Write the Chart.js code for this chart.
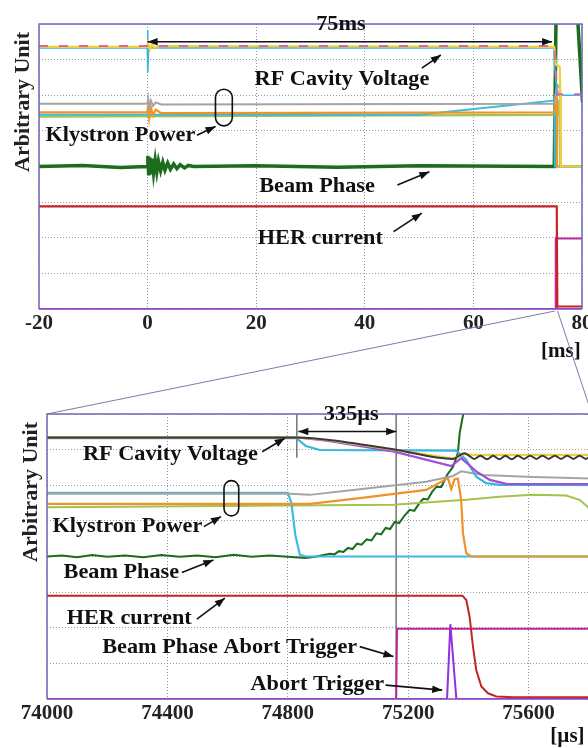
<!DOCTYPE html>
<html><head><meta charset="utf-8">
<script src="https://cdn.jsdelivr.net/npm/chart.js@4/dist/chart.umd.min.js"></script>
<style>
html,body{margin:0;padding:0;background:#fff;overflow:hidden;width:588px;height:748px;}
#wrap{position:relative;width:588px;height:748px;overflow:hidden;}
canvas{position:absolute;}
#c1{left:0;top:0;} #c2{left:0;top:390px;} #ov{left:0;top:0;z-index:5;pointer-events:none;}
</style></head><body>
<div id="wrap">
<canvas id="c1" width="620" height="380"></canvas>
<canvas id="c2" width="700" height="358"></canvas>
<canvas id="ov" width="588" height="748"></canvas>
</div>
<script>
// ---------- tick labels ----------
const topXTicks = [-20, 0, 20, 40, 60, 80];
const botXTicks = [74000, 74400, 74800, 75200, 75600, 76000];
const yTicks = [0, 1, 2, 3, 4, 5, 6, 7, 8];

// ---------- upper panel (x in ms) ----------
const topRfPink   = [[-20,7.38],[74.9,7.38],[75.2,6.6],[75.5,6.03],[80,6.03]];
const topRfYellow = [[-20,7.36],[-0.05,7.36],[0.1,7.48],[0.4,7.28],[0.8,7.42],[1.3,7.32],[2,7.38],[74.9,7.36],[75.2,6.85],[75.9,6.8],[76.0,6.07],[76.1,4.0],[80,4.0]];
const topRfCyan   = [[-20,7.33],[-0.05,7.33],[0,7.83],[0.05,6.65],[0.2,7.33],[74.8,7.33],[74.9,6.97],[75.4,6.0],[80,6.0]];
const topKlyGray  = [[-20,5.76],[-0.05,5.76],[0.1,5.9],[0.3,5.65],[0.6,5.85],[1.0,5.7],[1.5,5.8],[2.5,5.74],[74.9,5.76],[75.4,6.3],[75.9,6.2],[76.1,4.0],[80,4.0]];
const topKlyOrange= [[-20,5.52],[-0.05,5.52],[0.1,5.72],[0.3,5.36],[0.6,5.66],[1.0,5.44],[1.5,5.6],[2.5,5.5],[74.9,5.52],[75.35,6.2],[75.4,4.0],[80,4.0]];
const topKlyCyan  = [[-20,5.45],[50,5.45],[74.9,5.85],[75.0,4.0],[80,4.0]];
const topKlyGreen = [[-20,5.4],[75.0,5.45],[75.6,5.75],[75.85,5.4],[76.0,4.0],[80,4.0]];
const topBeamPhase= [[-20,4.0],[-12,4.03],[-5,3.97],[-0.05,4.0],[0.05,4.3],[0.2,3.75],[0.4,4.26],[0.6,3.78],[0.85,4.22],[1.1,3.82],[1.4,4.18],[1.7,3.85],[2.0,4.15],[2.4,3.88],[2.8,4.12],[3.2,3.9],[3.7,4.1],[4.2,3.92],[4.8,4.07],[5.4,3.94],[6.0,4.05],[6.8,3.96],[7.5,4.03],[8.5,4.0],[20,4.02],[35,3.98],[50,4.02],[74.9,4.0],[75.35,10],[78.5,10],[80.1,5.8]];
const topHER      = [[-20,2.88],[75.35,2.88],[75.45,0.07],[80,0.07]];
const topBPAT     = [[-20,0],[75.16,0],[75.16,1.98],[80,1.98]];
const topAbort    = [[-20,0],[75.33,0],[75.34,2.06],[75.36,0],[80,0]];

// ---------- lower panel (x in µs) ----------
const botRfBlack  = [[74000,7.34],[74830,7.34],[74930,7.28],[75150,7.01],[75349,6.74],[75387,6.9],[75400,6.84],[75420,6.74],[75440,6.83],[75462,6.73],[75482,6.83],[75503,6.73],[75523,6.83],[75544,6.73],[75564,6.83],[75585,6.74],[75605,6.83],[75626,6.74],[75646,6.83],[75667,6.74],[75687,6.83],[75708,6.74],[75728,6.83],[75749,6.74],[75769,6.83],[75790,6.74],[75810,6.83],[75831,6.74],[75851,6.83],[75872,6.74],[75892,6.83],[75913,6.74],[75933,6.83],[75954,6.74],[75974,6.83],[75995,6.74]];
const botRfYellow = [[74000,7.35],[74830,7.35],[74930,7.27],[75150,7.0],[75349,6.75],[75387,6.88],[75420,6.85],[76000,6.85]];
const botRfPurple = [[74000,7.34],[74830,7.34],[74930,7.25],[75150,6.95],[75343,6.54],[75376,6.76],[75426,6.39],[75471,6.15],[75526,6.04],[76000,6.03]];
const botRfCyan   = [[74000,7.32],[74829,7.32],[74860,7.1],[74906,6.99],[75360,6.97],[75393,6.71],[75426,6.24],[75459,6.06],[75504,6.01],[76000,6.0]];
const botKlyGray  = [[74000,5.76],[74807,5.76],[74873,5.73],[75039,5.89],[75260,6.10],[75349,6.26],[75376,6.39],[75448,6.29],[75614,6.23],[76000,6.15]];
const botKlyOrange= [[74000,5.48],[74873,5.48],[75039,5.64],[75260,5.87],[75332,6.2],[75343,5.89],[75354,6.17],[75365,6.19],[75376,5.59],[75382,4.65],[75393,4.09],[75410,4.0],[76000,4.0]];
const botKlyCyan  = [[74000,5.79],[74800,5.79],[74812,5.5],[74825,4.6],[74840,4.05],[74860,4.0],[76000,4.0]];
const botKlyGreen = [[74000,5.38],[75150,5.45],[75393,5.59],[75504,5.68],[75614,5.73],[75725,5.71],[75769,5.59],[75796,5.40],[75850,4.6],[75900,4.1],[76000,4.0]];
const botBeamPhase= [[74000,4.0],[74050,4.03],[74100,3.98],[74150,4.04],[74200,3.99],[74260,4.03],[74320,3.98],[74380,4.04],[74440,3.99],[74500,4.03],[74560,3.98],[74620,4.05],[74680,3.99],[74740,4.03],[74800,3.99],[74860,3.96],[74895,4.0],[74940,4.08],[74955,4.06],[74970,4.15],[74985,4.13],[75000,4.24],[75015,4.21],[75030,4.36],[75045,4.33],[75062,4.48],[75078,4.45],[75094,4.65],[75110,4.62],[75125,4.8],[75140,4.77],[75155,4.97],[75170,4.94],[75188,5.15],[75205,5.31],[75220,5.28],[75235,5.47],[75250,5.62],[75265,5.6],[75280,5.82],[75294,5.96],[75310,5.95],[75330,6.3],[75349,6.52],[75365,6.9],[75371,7.46],[75385,8.1],[75395,9]];
const botHER      = [[74000,2.9],[75380,2.9],[75393,2.78],[75404,2.31],[75415,1.49],[75426,0.81],[75443,0.35],[75465,0.16],[75493,0.07],[75550,0.05],[76000,0.05]];
const botBPAT     = [[74000,0],[75160,0],[75163,1.97],[76000,1.97]];
const botAbort    = [[74000,0],[75329,0],[75340,2.1],[75360,0],[76000,0]];
const botCursorA  = [[74830,8],[74830,6.77]];
const botCursorB  = [[75160,8],[75160,0]];

const FONT = '"Liberation Serif", "Times New Roman", serif';

function ds(arr, color, w, extra) {
  return Object.assign({
    data: arr.map(p => ({x: p[0], y: p[1]})),
    borderColor: color, borderWidth: w, pointRadius: 0, fill: false, tension: 0
  }, extra || {});
}
function drawText(ctx, s, px, py, size, sx) {
  ctx.save();
  ctx.translate(px, py); ctx.scale(sx, 1);
  ctx.font = 'bold ' + size + 'px ' + FONT;
  ctx.textAlign = 'center'; ctx.textBaseline = 'middle';
  ctx.fillStyle = '#111';
  ctx.fillText(s, 0, 0);
  ctx.restore();
}
function head(ctx, x1, y1, x2, y2) {
  const a = Math.atan2(y2 - y1, x2 - x1), L = 10, W = 3.8;
  ctx.beginPath();
  ctx.moveTo(x2, y2);
  ctx.lineTo(x2 - L*Math.cos(a) + W*Math.sin(a), y2 - L*Math.sin(a) - W*Math.cos(a));
  ctx.lineTo(x2 - L*Math.cos(a) - W*Math.sin(a), y2 - L*Math.sin(a) + W*Math.cos(a));
  ctx.closePath(); ctx.fill();
}
const annotPlugin = {
  id: 'annot',
  afterDatasetsDraw(chart) {
    const {ctx, chartArea: a} = chart;
    ctx.save();
    ctx.strokeStyle = '#6c6cb8'; ctx.lineWidth = 1.5;
    ctx.beginPath();
    ctx.moveTo(a.left, a.bottom); ctx.lineTo(a.left, a.top); ctx.lineTo(a.right, a.top); ctx.lineTo(a.right, a.bottom);
    ctx.stroke();
    ctx.strokeStyle = '#8a4cc8';
    ctx.beginPath(); ctx.moveTo(a.left, a.bottom); ctx.lineTo(a.right, a.bottom); ctx.stroke();
    ctx.restore();
  },
  afterDraw(chart, args, o) {
    const {ctx, chartArea: a} = chart;
    const X = chart.scales.x, Y = chart.scales.y;
    const px = v => X.getPixelForValue(v), py = v => Y.getPixelForValue(v);
    ctx.save();
    ctx.fillStyle = '#111'; ctx.strokeStyle = '#111'; ctx.lineWidth = 1.6;
    (o.arrows || []).forEach(r => {
      const x1 = px(r[0]), y1 = py(r[1]), x2 = px(r[2]), y2 = py(r[3]);
      ctx.beginPath(); ctx.moveTo(x1, y1); ctx.lineTo(x2, y2); ctx.stroke();
      head(ctx, x1, y1, x2, y2);
      if (r[4]) head(ctx, x2, y2, x1, y1);
    });
    (o.capsules || []).forEach(c => {
      const x1 = px(c[0]), x2 = px(c[1]), y1 = py(c[2]), y2 = py(c[3]);
      const w = x2 - x1, h = y2 - y1;
      ctx.beginPath(); ctx.roundRect(x1, y1, w, h, w / 2); ctx.stroke();
    });
    (o.texts || []).forEach(t => drawText(ctx, t[0], px(t[1]), py(t[2]), 21, 1.06));
    ctx.save();
    ctx.translate(a.left - 16, a.top + 78); ctx.rotate(-Math.PI / 2);
    ctx.font = 'bold 22px ' + FONT; ctx.textAlign = 'center'; ctx.textBaseline = 'middle';
    ctx.fillStyle = '#222'; ctx.fillText(o.ytitle, 0, 0);
    ctx.restore();
    drawText(ctx, o.unit[0], px(o.unit[1]), a.bottom + o.unit[2], 21, 1.0);
    ctx.restore();
  }
};
function scales(xmin, xmax, xt, axisH) {
  return {
    x: {
      type: 'linear', min: xmin, max: xmax,
      afterBuildTicks: s => { s.ticks = xt.map(v => ({value: v})); },
      afterFit: s => { s.height = axisH; },
      ticks: { font: {family: FONT, size: 21, weight: 'bold'}, color: '#222', padding: 2, maxRotation: 0, autoSkip: false,
               callback: v => String(v) },
      grid: { color: '#8f8fc8', lineWidth: 1, drawTicks: false },
      border: { display: false, dash: [1, 2] }
    },
    y: {
      type: 'linear', min: 0, max: 8,
      afterBuildTicks: s => { s.ticks = yTicks.map(v => ({value: v})); },
      afterFit: s => { s.width = 0; },
      ticks: { display: false },
      grid: { color: '#9a9a9a', lineWidth: 1, drawTicks: false },
      border: { display: false, dash: [1, 2] }
    }
  };
}
const common = {
  responsive: false, animation: false, devicePixelRatio: 1,
  events: [],
  plugins: { legend: {display: false}, tooltip: {enabled: false} }
};
const chart1 = new Chart(document.getElementById('c1'), {
  type: 'line',
  data: { datasets: [
    ds(topRfPink, '#d46aa8', 2, {borderDash: [9, 11]}),
    ds(topRfYellow, '#ecd040', 2.2),
    ds(topRfCyan, '#35b6e0', 1.6),
    ds(topKlyGray, '#a4a4a4', 2),
    ds(topKlyOrange, '#f0922c', 2.2),
    ds(topKlyCyan, '#38bce2', 2),
    ds(topKlyGreen, '#a2c44a', 2.4),
    ds(topBeamPhase, '#1c6c1c', 3.5),
    ds(topHER, '#c82222', 2.2),
    ds(topBPAT, '#c42a9c', 2),
    ds(topAbort, '#8a3ad8', 2)
  ]},
  options: Object.assign({}, common, {
    layout: { padding: {left: 39, top: 24, right: 38, bottom: 0} },
    scales: scales(-20, 80, topXTicks, 71),
    plugins: Object.assign({}, common.plugins, {
      annot: {
        arrows: [[0, 7.5, 74.5, 7.5, true], [50.5, 6.76, 54.0, 7.13], [9.08, 4.88, 12.52, 5.12],
                 [46.0, 3.48, 51.9, 3.85], [45.3, 2.17, 50.5, 2.69]],
        capsules: [[12.5, 15.6, 6.17, 5.14]],
        texts: [['75ms', 35.6, 7.97], ['RF Cavity Voltage', 35.8, 6.45], ['Klystron Power', -5.0, 4.86],
                ['Beam Phase', 31.2, 3.43], ['HER current', 31.8, 1.97]],
        ytitle: 'Arbitrary Unit',
        unit: ['[ms]', 76.1, 43]
      }
    })
  }),
  plugins: [annotPlugin]
});
const chart2 = new Chart(document.getElementById('c2'), {
  type: 'line',
  data: { datasets: [
    ds(botRfBlack, '#3a3a3a', 2, {cubicInterpolationMode: 'monotone'}),
    ds(botRfYellow, '#ecd040', 2.2),
    ds(botRfPurple, '#a24ed6', 2.2),
    ds(botRfCyan, '#35b6e0', 2.2),
    ds(botKlyGray, '#a4a4a4', 2),
    ds(botKlyOrange, '#f0922c', 2.2),
    ds(botKlyCyan, '#38bce2', 2.2),
    ds(botKlyGreen, '#a2c44a', 2),
    ds(botBeamPhase, '#1c6c1c', 2),
    ds(botHER, '#c02626', 2),
    ds(botBPAT, '#b8289a', 2),
    ds(botAbort, '#9030e0', 2),
    ds(botCursorA, '#6a6a6a', 1.4),
    ds(botCursorB, '#6a6a6a', 1.4)
  ]},
  options: Object.assign({}, common, {
    layout: { padding: {left: 47, top: 24, right: 51, bottom: 0} },
    scales: scales(74000, 76000, botXTicks, 49),
    plugins: Object.assign({}, common.plugins, {
      annot: {
        arrows: [[74835, 7.51, 75160, 7.51, true], [74715, 6.94, 74790, 7.32], [74521, 4.84, 74578, 5.12],
                 [74448, 3.55, 74553, 3.90], [74498, 2.24, 74591, 2.83], [75039, 1.47, 75151, 1.19],
                 [75125, 0.39, 75313, 0.25]],
        capsules: [[74588, 74637, 6.13, 5.14]],
        texts: [['335µs', 75011, 7.97], ['RF Cavity Voltage', 74410, 6.85], ['Klystron Power', 74267, 4.84],
                ['Beam Phase', 74247, 3.55], ['HER current', 74273, 2.27],
                ['Beam Phase Abort Trigger', 74607, 1.44], ['Abort Trigger', 74898, 0.41]],
        ytitle: 'Arbitrary Unit',
        unit: ['[µs]', 75729, 38]
      }
    })
  }),
  plugins: [annotPlugin]
});
// magnification guide lines between the panels
(function () {
  const ctx = document.getElementById('ov').getContext('2d');
  const a1 = chart1.chartArea, a2 = chart2.chartArea;
  const off2 = 390;
  const xs = [[75.0, 74000], [75.5, 75810]];
  ctx.strokeStyle = '#7c7ca4'; ctx.lineWidth = 1;
  xs.forEach(p => {
    ctx.beginPath();
    ctx.moveTo(chart1.scales.x.getPixelForValue(p[0]), a1.bottom + 2);
    ctx.lineTo(chart2.scales.x.getPixelForValue(p[1]), a2.top + off2);
    ctx.stroke();
  });
})();
</script>
</body></html>
